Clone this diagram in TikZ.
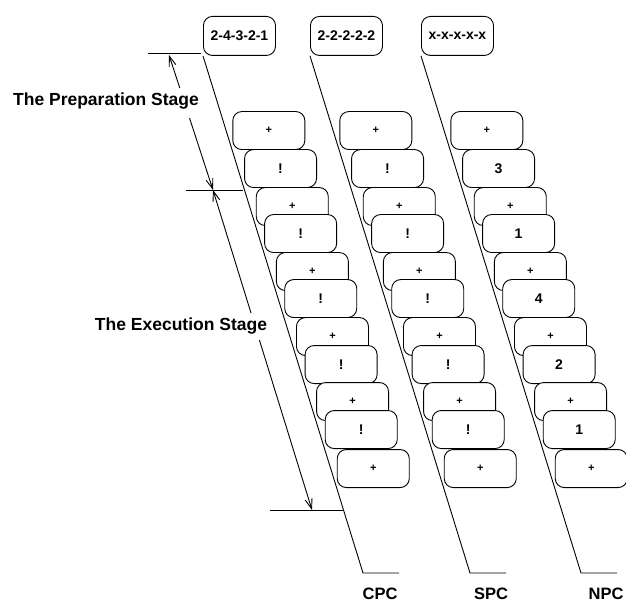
\documentclass[tikz,border=0pt]{standalone}
\usepackage{fontspec}
\setmainfont{Liberation Sans}
\usetikzlibrary{arrows.meta}
\newcommand\plusfnt{\fontsize{11}{11}\selectfont\bfseries}
\newcommand\markfnt{\fontsize{14}{14}\selectfont\bfseries}
\begin{document}
\begin{tikzpicture}[x=1pt,y=-1pt,
  ln/.style={line width=0.9pt},
  box/.style={draw, fill=white, rounded corners=9pt, minimum width=72pt,
    minimum height=38pt, inner sep=0pt, line width=0.9pt, anchor=south west},
  hdr/.style={draw, fill=white, rounded corners=9pt, minimum width=72pt,
    minimum height=39pt, inner sep=0pt, line width=0.9pt, anchor=north west,
    font=\markfnt},
  stagelbl/.style={font=\fontsize{17.5}{18}\selectfont\bfseries, inner sep=0pt},
  collbl/.style={font=\fontsize{16.5}{17}\selectfont\bfseries, inner sep=0pt, anchor=base},
  tip/.style={-{Straight Barb[length=10pt,width=7pt]}},
  tipr/.style={{Straight Barb[length=10pt,width=7pt]}-}
]
\useasboundingbox (0,0) rectangle (626,601);

\foreach \p/\xo/\hd/\nm/\lx/\la/\lb/\lc/\ld/\le in
  {c/0/2-4-3-2-1/CPC/380/!/!/!/!/!,
   s/107/2-2-2-2-2/SPC/491/!/!/!/!/!,
   n/218/x-x-x-x-x/NPC/606/3/1/4/2/1} {
  \node[hdr] (h\p) at (203+\xo,16) {\hd};
  \coordinate (\p-bot) at (363+\xo,573);
  \coordinate (\p-end) at (399+\xo,573);
  \draw[ln] (h\p.south west) -- (\p-bot) -- (\p-end);
  \node[collbl] (\p-lbl) at (\lx,599) {\nm};
  \foreach \i/\b/\t/\f in {1/150/+/\plusfnt, 2/188/\la/\markfnt,
      3/226/+/\plusfnt, 4/253/\lb/\markfnt, 5/291/+/\plusfnt,
      6/318/\lc/\markfnt, 7/356/+/\plusfnt, 8/384/\ld/\markfnt,
      9/421/+/\plusfnt, 10/449/\le/\markfnt, 11/488/+/\plusfnt} {
    \pgfmathsetmacro\bx{203+\xo+(\b-55)*0.309}
    \node[box] (\p\i) at (\bx,\b) {\f\t};
  }
}

% dimension ticks
\coordinate (t1a) at (148,53);
\coordinate (t1b) at (201,53);
\coordinate (t2a) at (186,190);
\coordinate (t2b) at (243,190);
\coordinate (t3a) at (270,510);
\coordinate (t3b) at (343,510);
\draw[ln] (t1a) -- (t1b);
\draw[ln] (t2a) -- (t2b);
\draw[ln] (t3a) -- (t3b);

% dimension lines
\coordinate (pa) at (169,55);
\coordinate (pg1) at (179.8,88);
\coordinate (pg2) at (189.5,118);
\coordinate (pb) at (213,190);
\coordinate (eg1) at (251,313);
\coordinate (eg2) at (259.4,340);
\coordinate (pc) at (312,510);
\draw[ln,tipr] (pa) -- (pg1);
\draw[ln,tip] (pg2) -- (pb);
\draw[ln,tipr] (pb) -- (eg1);
\draw[ln,tip] (eg2) -- (pc);

\node[stagelbl] (prep) at (106,101) {The Preparation Stage};
\node[stagelbl] (exec) at (181,326) {The Execution Stage};
\end{tikzpicture}
\end{document}
